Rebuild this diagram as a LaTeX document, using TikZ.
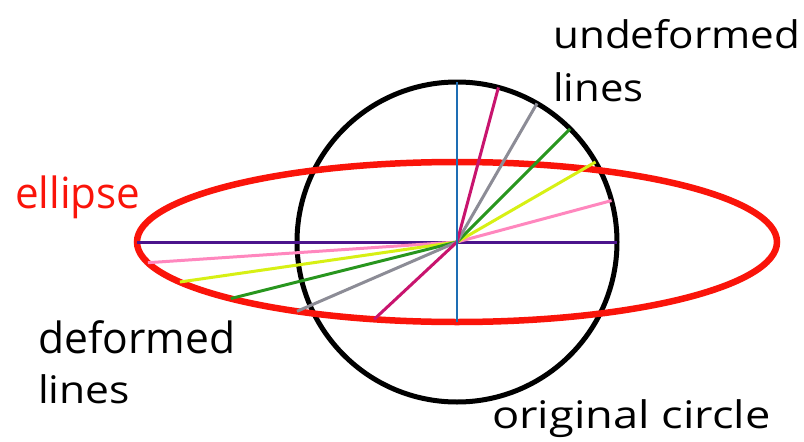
\documentclass[tikz,border=0pt]{standalone}
\usepackage{fontspec}
\setmainfont{Open Sans}
\usepackage{tikz}
\usetikzlibrary{calc, positioning}
\definecolor{ringred}{RGB}{250,20,10}
\definecolor{linepurple}{RGB}{75,20,140}
\definecolor{linepink}{RGB}{255,135,190}
\definecolor{lineyellow}{RGB}{215,240,20}
\definecolor{linegreen}{RGB}{40,150,30}
\definecolor{linegray}{RGB}{140,140,150}
\definecolor{linemagenta}{RGB}{200,20,110}
\definecolor{lineblue}{RGB}{30,110,180}
\tikzstyle{biglabel} = [anchor=base west, inner sep=0pt, font=\fontsize{38}{40}\selectfont]
\tikzstyle{circ} = [draw=black, line width=5pt]
\tikzstyle{ell} = [draw=ringred, line width=6.5pt]
\tikzstyle{ray} = [line width=3pt]

\begin{document}
\begin{tikzpicture}[x=1pt, y=-1pt]
\useasboundingbox (0,0) rectangle (804,442);
\fill[white] (0,0) rectangle (804,442);

\coordinate (c) at (457,242);
\draw [circ] (c) circle [radius=160];
\draw [ell] (c) ellipse [x radius=320, y radius=80];

% ends on the circle and on the ellipse
\coordinate (u0) at ($(c)+(160,0)$);
\coordinate (d0) at ($(c)+(-320,0)$);
\coordinate (u15) at ($(c)+({160*cos(15)},{-160*sin(15)})$);
\coordinate (d15) at ($(c)+({-320*cos(15)},{80*sin(15)})$);
\coordinate (u30) at ($(c)+({160*cos(30)},{-160*sin(30)})$);
\coordinate (d30) at ($(c)+({-320*cos(30)},{80*sin(30)})$);
\coordinate (u45) at ($(c)+({160*cos(45)},{-160*sin(45)})$);
\coordinate (d45) at ($(c)+({-320*cos(45)},{80*sin(45)})$);
\coordinate (u60) at ($(c)+({160*cos(60)},{-160*sin(60)})$);
\coordinate (d60) at ($(c)+({-320*cos(60)},{80*sin(60)})$);
\coordinate (u75) at ($(c)+({160*cos(75)},{-160*sin(75)})$);
\coordinate (d75) at ($(c)+({-320*cos(75)},{80*sin(75)})$);
\coordinate (u90) at ($(c)+(0,-160)$);
\coordinate (d90) at ($(c)+(0,80)$);

\draw [ray, linepurple] (d0) -- (c) -- (u0);
\draw [ray, linepink] (d15) -- (c) -- (u15);
\draw [ray, lineyellow] (d30) -- (c) -- (u30);
\draw [ray, linegreen] (d45) -- (c) -- (u45);
\draw [ray, linegray] (d60) -- (c) -- (u60);
\draw [ray, linemagenta] (d75) -- (c) -- (u75);
\draw [lineblue, line width=2pt] (d90) -- (c) -- (u90);

\node (undef) [biglabel] at (553,48) {\scalebox{1.11}[1]{undeformed}};
\node (undeflines) [biglabel] at (553,101) {\scalebox{1.1}[1]{lines}};
\node (elllabel) [biglabel, ringred, font=\fontsize{43}{46}\selectfont] at (15,208) {\scalebox{0.98}[1]{ellipse}};
\node (def) [biglabel, font=\fontsize{43}{46}\selectfont] at (38,353) {\scalebox{0.99}[1]{deformed}};
\node (deflines) [biglabel] at (38,403) {\scalebox{1.12}[1]{lines}};
\node (orig) [biglabel] at (492,428) {\scalebox{1.19}[1]{original circle}};
\end{tikzpicture}
\end{document}
